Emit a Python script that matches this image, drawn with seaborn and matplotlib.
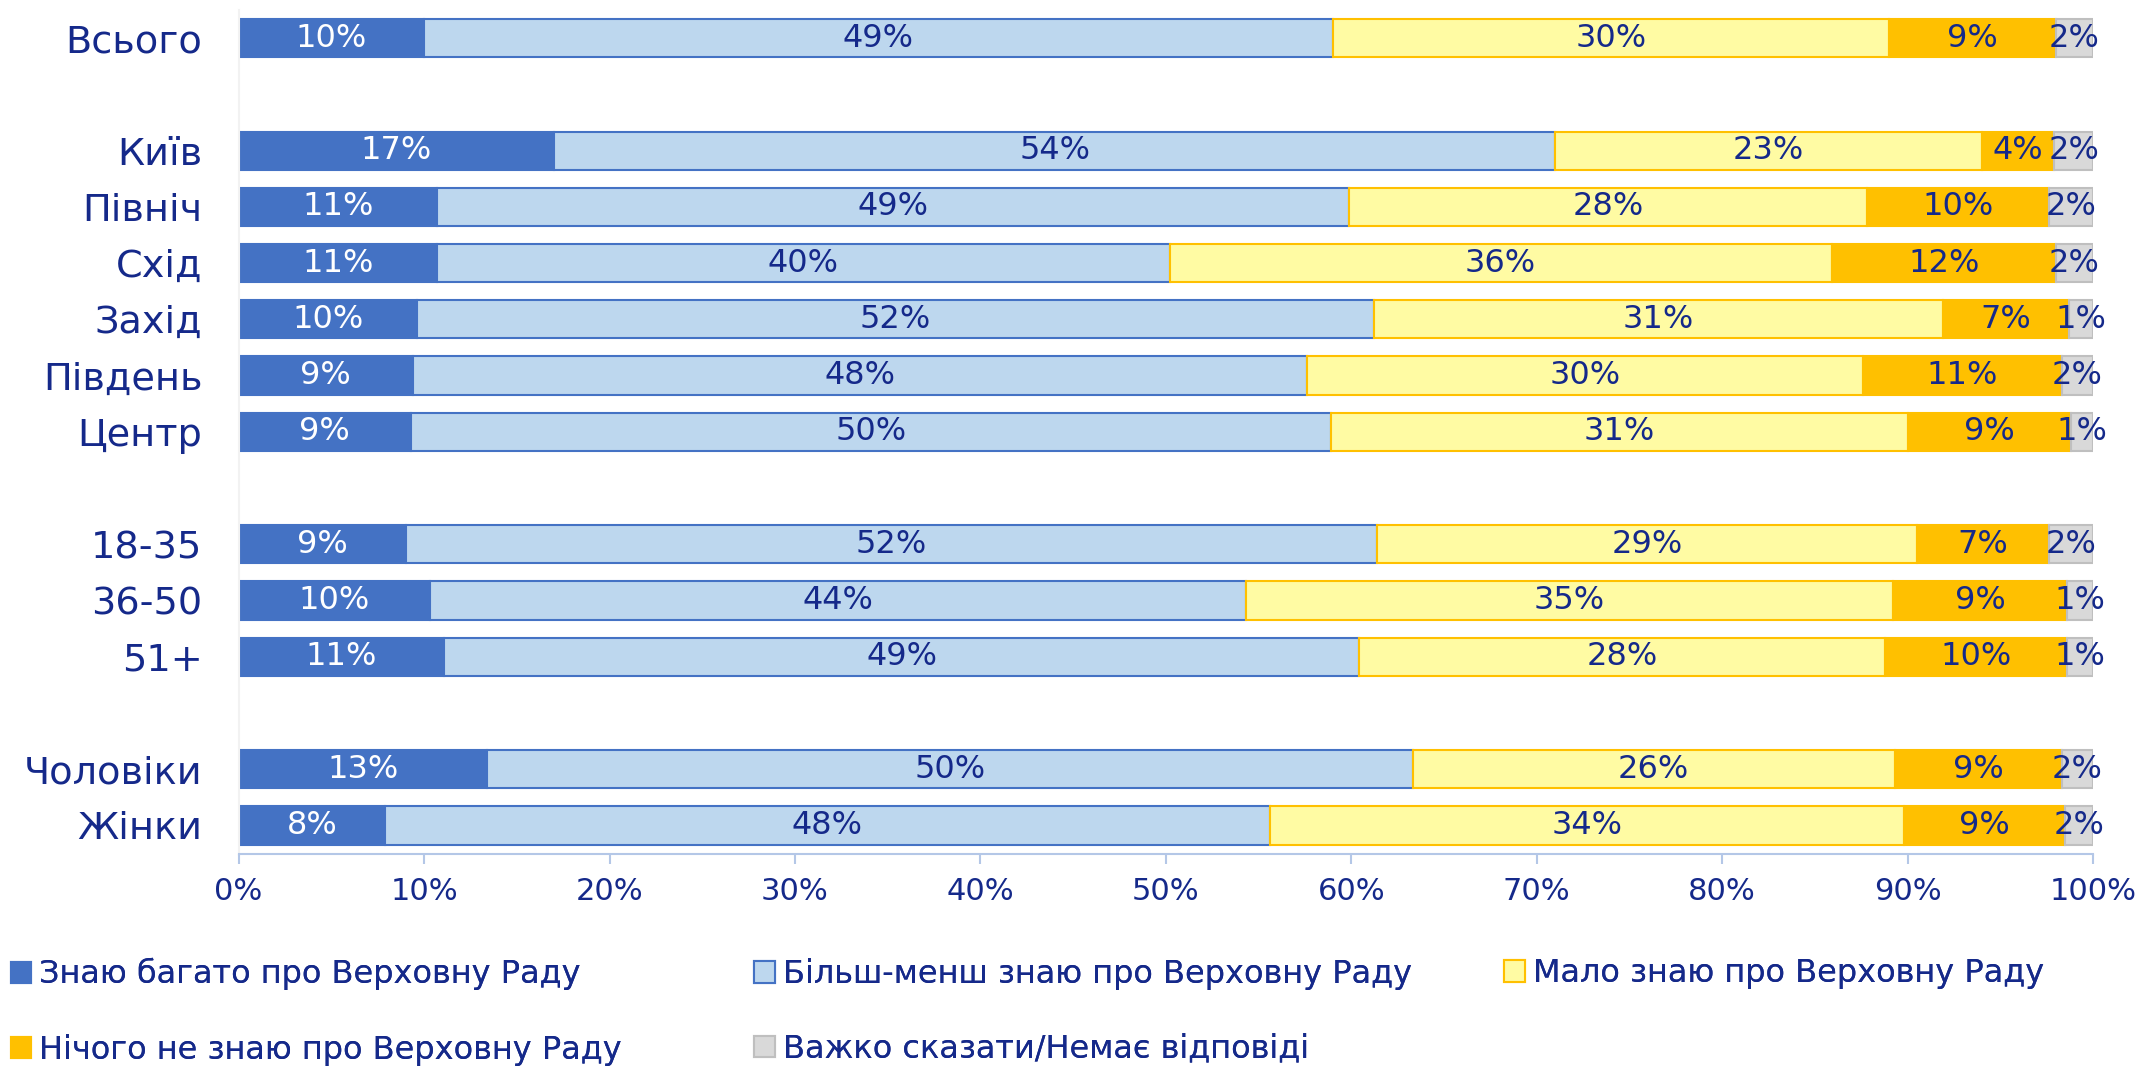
"""
Stacked bar chart: awareness of the Verkhovna Rada by group
"""

import numpy as np
import pandas as pd
import matplotlib
matplotlib.use('Agg')
import matplotlib.pyplot as plt
from matplotlib.patches import Patch
import seaborn as sns

sns.set_theme(style='white')
plt.rcParams['font.family'] = ['DejaVu Sans']

# --- data -------------------------------------------------------------
group_total = ['Всього']
group_region = ['Київ', 'Північ', 'Схід', 'Захід', 'Південь', 'Центр']
group_age = ['18-35', '36-50', '51+']
group_sex = ['Чоловіки', 'Жінки']

series_names = [
    'Знаю багато про Верховну Раду',
    'Більш-менш знаю про Верховну Раду',
    'Мало знаю про Верховну Раду',
    'Нічого не знаю про Верховну Раду',
    'Важко сказати/Немає відповіді',
]

know_much = [10.0, 17.0, 10.7, 10.7, 9.6, 9.4, 9.3, 9.0, 10.3, 11.1, 13.4, 7.9]
know_some = [49.0, 54.0, 49.2, 39.5, 51.6, 48.2, 49.6, 52.4, 44.0, 49.3, 49.9, 47.7]
know_little = [30.0, 23.0, 27.9, 35.7, 30.7, 30.0, 31.1, 29.1, 34.9, 28.4, 26.0, 34.2]
know_nothing = [9.0, 3.9, 9.8, 12.1, 6.8, 10.7, 8.8, 7.1, 9.4, 9.8, 9.0, 8.7]
hard_to_say = [2.0, 2.1, 2.4, 2.0, 1.3, 1.7, 1.2, 2.4, 1.4, 1.4, 1.7, 1.5]

x_ticks = [0, 10, 20, 30, 40, 50, 60, 70, 80, 90, 100]

# --- style ------------------------------------------------------------
TEXT = '#15298A'
face_colors = ['#4472C4', '#BDD7EE', '#FFFBA3', '#FFC000', '#D9D9D9']
edge_colors = ['#4472C4', '#4472C4', '#FFC000', '#FFC000', '#BFBFBF']
label_colors = ['white', TEXT, TEXT, TEXT, TEXT]

groups = [group_total, group_region, group_age, group_sex]
categories = [c for g in groups for c in g]

# row positions with an empty row between groups
positions = []
row = 0
for g in groups:
    for _ in g:
        positions.append(row)
        row += 1
    row += 1
n_rows = row - 1

df = pd.DataFrame(
    np.column_stack([know_much, know_some, know_little, know_nothing, hard_to_say]),
    index=categories, columns=series_names,
)

fig = plt.figure(figsize=(21.38, 10.67), dpi=100)
ax = fig.add_axes([0.1116, 0.2, 0.8674, 0.7906])

left = np.zeros(len(df))
for i, col in enumerate(series_names):
    vals = df[col].values
    bars = ax.barh(positions, vals, left=left, height=0.68,
                   color=face_colors[i], edgecolor=edge_colors[i], linewidth=1.5)
    ax.bar_label(bars, labels=[f'{v:.0f}%' for v in vals], label_type='center',
                 color=label_colors[i], fontsize=23)
    left += vals

ax.set_xlim(0, 100)
ax.set_ylim(n_rows - 0.5, -0.5)

ax.set_yticks(positions)
ax.set_yticklabels(categories, fontsize=27.5, color=TEXT)
ax.tick_params(axis='y', length=0, pad=26)
ax.set_yticks(np.arange(-0.5, n_rows, 1), minor=True)
ax.tick_params(axis='y', which='minor', length=8, color='#F0F0F0', width=1.5)

ax.set_xticks(x_ticks)
ax.set_xticklabels([f'{t}%' for t in x_ticks], fontsize=22, color=TEXT)
ax.tick_params(axis='x', length=7, width=1.5, color='#B4C7E7', pad=10,
               bottom=True)

sns.despine(ax=ax, top=True, right=True)
ax.spines['bottom'].set_color('#B4C7E7')
ax.spines['bottom'].set_linewidth(1.5)
ax.spines['left'].set_color('#F2F2F2')
ax.spines['left'].set_linewidth(1.5)
ax.grid(False)

# legend: three equal-width columns, filled row by row
handles = [Patch(facecolor=face_colors[i], edgecolor=edge_colors[i],
                 linewidth=1.5, label=series_names[i]) for i in range(5)]
legend_columns = [[0, 3], [1, 4], [2]]
legend_x = [0.005, 0.3527, 0.7035]
for xpos, idx in zip(legend_x, legend_columns):
    leg = fig.legend([handles[i] for i in idx], [series_names[i] for i in idx],
                     loc='upper left', bbox_to_anchor=(xpos, 0.102),
                     frameon=False, fontsize=23, labelcolor=TEXT,
                     handlelength=0.65, handleheight=0.65, handletextpad=0.25,
                     labelspacing=1.36, borderpad=0, borderaxespad=0)
    fig.add_artist(leg)

fig.savefig('out.png', dpi=100)
